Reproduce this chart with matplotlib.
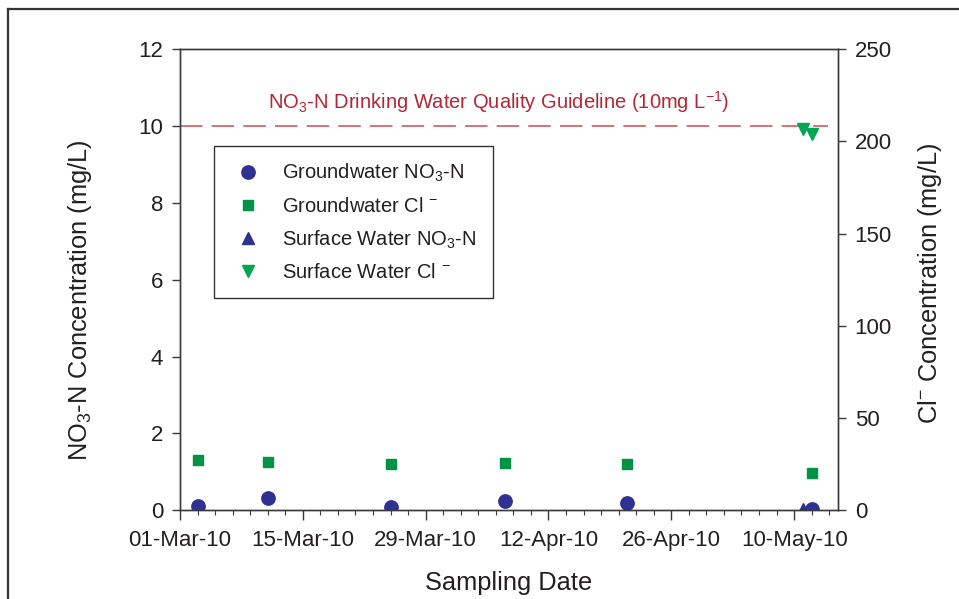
import matplotlib
matplotlib.use("Agg")
import matplotlib.pyplot as plt
import matplotlib.dates as mdates
from matplotlib.lines import Line2D
import pandas as pd

plt.rcParams['font.family'] = ['Liberation Sans', 'DejaVu Sans']
plt.rcParams['mathtext.fontset'] = 'custom'
plt.rcParams['mathtext.rm'] = 'Liberation Sans'
plt.rcParams['mathtext.it'] = 'Liberation Sans'
plt.rcParams['mathtext.default'] = 'regular'

# ---------------- data ----------------
gw_dates = ['2010-03-03', '2010-03-11', '2010-03-25', '2010-04-07', '2010-04-21', '2010-05-12']
gw_no3 = [0.12, 0.33, 0.09, 0.24, 0.19, 0.03]
gw_cl = [27.1, 26.4, 25.1, 25.8, 25.0, 20.4]

sw_dates = ['2010-05-11', '2010-05-12']
sw_no3 = [0.03, 0.02]
sw_cl = [206.5, 204.0]

guideline = 10
xtick_dates = ['2010-03-01', '2010-03-15', '2010-03-29', '2010-04-12', '2010-04-26', '2010-05-10']
xlim_dates = ['2010-03-01', '2010-05-15']
left_ticks = [0, 2, 4, 6, 8, 10, 12]
right_ticks = [0, 50, 100, 150, 200, 250]

# ---------------- figure ----------------
W, H = 959, 599
fig = plt.figure(figsize=(W / 100, H / 100), dpi=100)
L, R, B, T = 180, 838, 510.3, 49
ax = fig.add_axes([L / W, 1 - B / H, (R - L) / W, (B - T) / H])
ax2 = ax.twinx()

navy = '#2e3192'
green = '#009245'
green2 = '#00a651'
dark = '#231f20'

gwd = pd.to_datetime(gw_dates)
swd = pd.to_datetime(sw_dates)

ax.plot(swd, sw_no3, linestyle='none', marker='^', ms=9, color=navy, zorder=3)
ax.plot(gwd, gw_no3, linestyle='none', marker='o', ms=9.6, color=navy, zorder=4)
ax2.plot(gwd, gw_cl, linestyle='none', marker='s', ms=7.6, color=green, zorder=3)
ax2.plot(swd, sw_cl, linestyle='none', marker='v', ms=9, color=green2, zorder=3)

# guideline
ax.axhline(guideline, xmin=0, xmax=0.985, color='#cf5a64', lw=1.2, dashes=(13.5, 5.5), zorder=2)
fig.text((499) / W, 1 - 109 / H,
         'NO$_3$-N Drinking Water Quality Guideline (10mg L$^{-1}$)',
         ha='center', va='baseline', fontsize=14.5, color='#b32636')

# axes limits / ticks
x0, x1 = pd.to_datetime(xlim_dates)
ax.set_xlim(x0, x1)
ax.set_ylim(0, 12)
ax2.set_ylim(0, 250)
ax.set_xticks(pd.to_datetime(xtick_dates))
ax.xaxis.set_major_formatter(mdates.DateFormatter('%d-%b-%y'))
ax.set_xticks(pd.date_range(x0, x1, freq='2D'), minor=True)
ax.set_yticks(left_ticks)
ax2.set_yticks(right_ticks)

for a in (ax, ax2):
    for s in a.spines.values():
        s.set_color('#3a3a3a')
        s.set_linewidth(1.0)
ax.tick_params(axis='x', which='major', direction='out', length=7, width=1, color='#3a3a3a',
               labelsize=16, labelcolor=dark, pad=7)
ax.tick_params(axis='x', which='minor', direction='out', length=3.5, width=0.8, color='#3a3a3a')
ax.tick_params(axis='y', which='major', direction='out', length=6, width=1, color='#3a3a3a',
               labelsize=16, labelcolor=dark, pad=6)
ax2.tick_params(axis='y', which='major', direction='out', length=6, width=1, color='#3a3a3a',
                labelsize=16, labelcolor=dark, pad=6)

fig.text(509 / W, 1 - 583 / H, 'Sampling Date', ha='center', va='center', fontsize=18.3, color=dark)
fig.text(80 / W, 1 - 300 / H, 'NO$_3$-N Concentration (mg/L)', ha='center', va='center',
         rotation=90, fontsize=18.3, color=dark)
fig.text(930 / W, 1 - 283 / H, 'Cl$^{-}$ Concentration (mg/L)', ha='center', va='center',
         rotation=90, fontsize=18.3, color=dark)

# legend
handles = [
    Line2D([], [], linestyle='none', marker='o', ms=9.6, color=navy),
    Line2D([], [], linestyle='none', marker='s', ms=7.6, color=green),
    Line2D([], [], linestyle='none', marker='^', ms=9, color=navy),
    Line2D([], [], linestyle='none', marker='v', ms=9, color=green2),
]
labels = ['Groundwater NO$_3$-N', 'Groundwater Cl $^{-}$', 'Surface Water NO$_3$-N',
          'Surface Water Cl $^{-}$']
leg = ax2.legend(handles, labels, loc='upper left', bbox_to_anchor=(214 / W, 1 - 146 / H),
                 bbox_transform=fig.transFigure, borderaxespad=0, fontsize=14.5,
                 frameon=True, fancybox=False, edgecolor='#333333', framealpha=1,
                 borderpad=0.8, labelspacing=0.62, handlelength=1.8, handletextpad=0.8,
                 labelcolor=dark)
leg.get_frame().set_linewidth(1.0)

# outer frame (partial)
fig.add_artist(Line2D([7.5 / W, 1.0], [1 - 9 / H, 1 - 9 / H], transform=fig.transFigure,
                      color='#333333', lw=1.6))
fig.add_artist(Line2D([7.5 / W, 7.5 / W], [1 - 9 / H, 0], transform=fig.transFigure,
                      color='#333333', lw=1.6))

fig.savefig('out.png', dpi=100)
